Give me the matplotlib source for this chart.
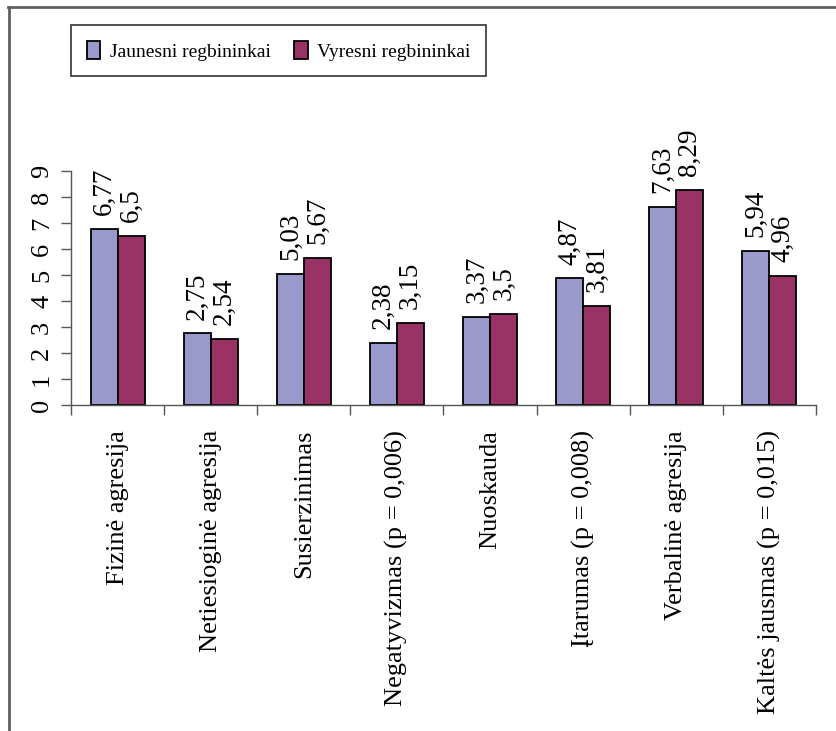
import numpy as np
import matplotlib.pyplot as plt
from matplotlib.lines import Line2D

plt.rcParams['font.family'] = ['Liberation Serif', 'DejaVu Serif']

# Data
categories = ['Fizinė agresija', 'Netiesioginė agresija', 'Susierzinimas',
              'Negatyvizmas (p = 0,006)', 'Nuoskauda', 'Įtarumas (p = 0,008)',
              'Verbalinė agresija', 'Kaltės jausmas (p = 0,015)']
jaunesni = [6.77, 2.75, 5.03, 2.38, 3.37, 4.87, 7.63, 5.94]
vyresni = [6.5, 2.54, 5.67, 3.15, 3.5, 3.81, 8.29, 4.96]
series_names = ['Jaunesni regbininkai', 'Vyresni regbininkai']

fig = plt.figure(figsize=(8.36, 7.31), dpi=100)
ax = fig.add_axes([0.085, 0.446, 0.891, 0.320])

x = np.arange(len(categories)) + 0.5
w = 0.29
b1 = ax.bar(x - w / 2, jaunesni, w, color='#9999CC', edgecolor='black', linewidth=1.3,
            label=series_names[0])
b2 = ax.bar(x + w / 2, vyresni, w, color='#993366', edgecolor='black', linewidth=1.3,
            label=series_names[1])

# value labels, rotated, comma decimal
for bars, vals in [(b1, jaunesni), (b2, vyresni)]:
    for bar, v in zip(bars, vals):
        ax.annotate(f'{v:g}'.replace('.', ','),
                    (bar.get_x() + bar.get_width() / 2, v),
                    xytext=(0, 10), textcoords='offset points',
                    rotation=90, ha='center', va='bottom', fontsize=19.5)

ax.set_xlim(0, len(categories))
ax.set_ylim(0, 9)
ax.set_yticks(range(10))
ax.set_yticklabels([str(i) for i in range(10)], rotation=90, va='center', fontsize=19)
ax.tick_params(axis='y', length=7, width=1, color='#555555', pad=6)

# category boundaries as major ticks, names on minor ticks
ax.set_xticks(range(len(categories) + 1))
ax.set_xticklabels([])
ax.tick_params(axis='x', which='major', length=7, width=1, color='#555555')
ax.set_xticks(x, minor=True)
ax.set_xticklabels(categories, minor=True, rotation=90, va='top', ha='center', fontsize=19)
ax.tick_params(axis='x', which='minor', length=0, pad=18)

for s in ['top', 'right']:
    ax.spines[s].set_visible(False)
for s in ['left', 'bottom']:
    ax.spines[s].set_color('#555555')
    ax.spines[s].set_linewidth(1)

leg = ax.legend(loc='upper left', bbox_to_anchor=(0.0, 1.624), borderaxespad=0,
                ncol=2, fontsize=14, frameon=True, fancybox=False, edgecolor='black',
                handlelength=0.7, handleheight=1.1, columnspacing=1.2, borderpad=0.8,
                handletextpad=0.5)
leg.get_frame().set_linewidth(1.2)

# frame lines around the picture
fig.add_artist(Line2D([0.009, 1.0], [1 - 7 / 731, 1 - 7 / 731], color='#606060', linewidth=2))
fig.add_artist(Line2D([0.011, 0.011], [0, 1 - 7 / 731], color='#606060', linewidth=2))

plt.savefig('out.png', dpi=100)
